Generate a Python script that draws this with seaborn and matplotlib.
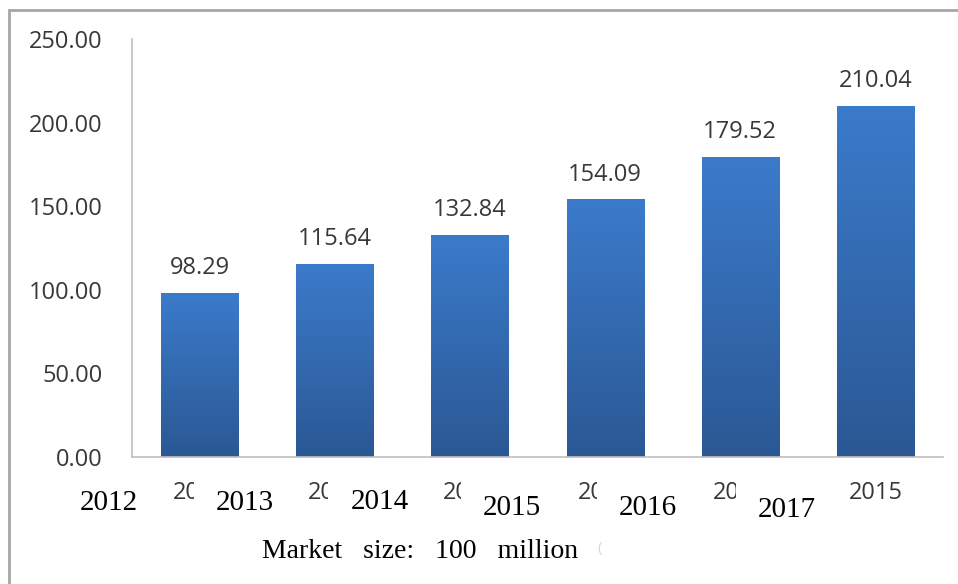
import numpy as np
import pandas as pd
import matplotlib.pyplot as plt
import seaborn as sns
from matplotlib.colors import LinearSegmentedColormap
from matplotlib.patches import Rectangle
from matplotlib.transforms import blended_transform_factory

# Chart data
years = ["2012", "2013", "2014", "2015", "2016", "2017"]
axis_years = ["2010", "2011", "2012", "2013", "2014", "2015"]  # original labels under the overlay
market_size = [98.29, 115.64, 132.84, 154.09, 179.52, 210.04]
y_ticks = [0, 50, 100, 150, 200, 250]

df = pd.DataFrame({"year": years, "size": market_size})

sns.set_style("white")
plt.rcParams["font.family"] = ["Open Sans", "DejaVu Sans"]

fig = plt.figure(figsize=(9.58, 5.84), dpi=100)
ax = fig.add_axes([0.1378, 0.2175, 0.8465, 0.7157])

sns.barplot(data=df, x="year", y="size", color="#3570BA", width=0.57,
            saturation=1, ax=ax)

# vertical gradient on the bars
cmap = LinearSegmentedColormap.from_list("bar", ["#2B5894", "#3B7BCB"])
grad = np.linspace(0, 1, 256).reshape(-1, 1)
for bar in ax.patches:
    x0, y0 = bar.get_x(), bar.get_y()
    w, h = bar.get_width(), bar.get_height()
    im = ax.imshow(grad, extent=[x0, x0 + w, y0, y0 + h], origin="lower",
                   aspect="auto", cmap=cmap, zorder=bar.get_zorder() + 0.1)
    im.set_clip_path(bar)

ax.bar_label(ax.containers[0], fmt="%.2f", padding=9, fontsize=17,
             color="#383838")

ax.set_xlim(-0.5, 5.5)
ax.set_ylim(0, 250)
ax.set_yticks(y_ticks)
ax.set_yticklabels([f"{v:.2f}" for v in y_ticks])
ax.set_xticks(range(len(axis_years)))
ax.set_xticklabels(axis_years)
ax.tick_params(length=0, labelsize=17, labelcolor="#383838")
ax.tick_params(axis="y", pad=21)
ax.tick_params(axis="x", pad=17)
ax.set_xlabel("")
ax.set_ylabel("")
for side in ["top", "right"]:
    ax.spines[side].set_visible(False)
for side in ["left", "bottom"]:
    ax.spines[side].set_color("#bfbfbf")
    ax.spines[side].set_linewidth(1.2)

# pasted-over year labels
trans = blended_transform_factory(ax.transData, ax.transAxes)
label_dx = [-0.673, -0.667, -0.669, -0.692, -0.686, -0.658]
label_y = [-0.11, -0.11, -0.108, -0.121, -0.121, -0.127]
for i, (year, dx, ly) in enumerate(zip(years, label_dx, label_y)):
    ax.text(i + dx, ly, year, transform=trans, ha="center", va="center",
            fontsize=21, family="Liberation Serif", color="black", zorder=5,
            bbox=dict(boxstyle="square,pad=0.75", fc="white", ec="none"))

fig.text(0.438, 0.0445, "Market   size:   100   million", ha="center",
         va="baseline", fontsize=20, family="Liberation Serif", color="black")
fig.text(0.626, 0.06, "(", ha="center", va="center", fontsize=11,
         color="#d9d9d9")

# outer frame of the scanned figure
fig.add_artist(Rectangle((9 / 958, -0.1), 2.0, 1.0 - 10 / 584 + 0.1,
                         transform=fig.transFigure, fill=False,
                         ec="#a6a6a6", lw=2))

fig.savefig("out.png", dpi=100)
